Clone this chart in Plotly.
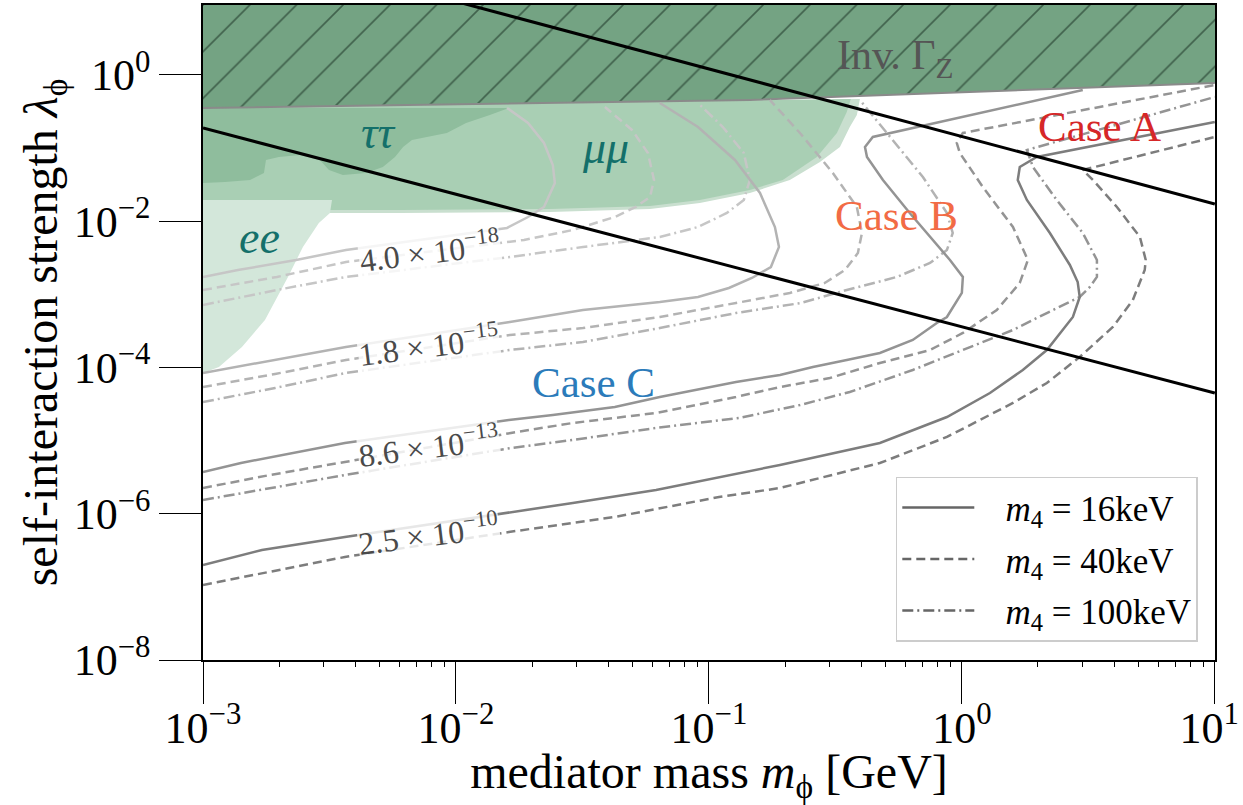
import numpy as np
import plotly.graph_objects as go

FONT = "Liberation Serif, DejaVu Serif, serif"
NBSP = "\u00a0"

# ---------------- excluded regions (log10 m_phi [GeV], log10 lambda_phi) ----------------
# lower edge of the invisible Z-width exclusion
invz_logm = [-3.0, -0.838, 1.0]
invz_loglam = [-0.451, -0.342, -0.109]

# mu mu exclusion (outer soft band and core)
mumu_band_logm = [-3.000, -0.403, -0.415, -0.443, -0.482, -0.561, -0.680, -0.838, -1.036, -1.233, -1.628, -2.221, -3.000]
mumu_band_loglam = [-0.451, -0.328, -0.547, -0.711, -0.985, -1.190, -1.436, -1.614, -1.750, -1.832, -1.874, -1.887, -1.887]
mumu_logm = [-3.000, -0.439, -0.455, -0.494, -0.573, -0.708, -0.838, -1.036, -1.233, -1.628, -2.221, -3.000]
mumu_loglam = [-0.451, -0.328, -0.506, -0.793, -1.121, -1.436, -1.573, -1.709, -1.791, -1.832, -1.846, -1.846]

# tau tau exclusion
tautau_logm = [-3.000, -1.791, -1.866, -1.960, -2.036, -2.174, -2.209, -2.241, -2.289, -2.356, -2.447, -2.502,
               -2.538, -2.617, -2.700, -2.751, -2.759, -2.814, -2.913, -3.000]
tautau_loglam = [-0.451, -0.451, -0.547, -0.656, -0.793, -0.889, -0.985, -1.121, -1.258, -1.340, -1.368, -1.299,
                 -1.162, -1.094, -1.121, -1.162, -1.340, -1.436, -1.463, -1.477]

# e e exclusion
ee_logm = [-3.000, -2.490, -2.498, -2.542, -2.605, -2.664, -2.755, -2.846, -2.937, -3.000]
ee_loglam = [-1.709, -1.709, -1.887, -2.024, -2.352, -2.762, -3.350, -3.720, -3.993, -4.075]

# ---------------- iso-lines of the relic quantity for m4 = 16 / 40 / 100 keV ----------------
level_text = ["4.0 × 10<sup>−18</sup>", "1.8 × 10<sup>−15</sup>", "8.6 × 10<sup>−13</sup>", "2.5 × 10<sup>−10</sup>"]
level_label_logm = [-2.103, -2.110, -2.110, -2.110]
level_label_loglam = [-2.390, -3.680, -5.060, -6.270]
level_colors = ["#c6c6c6", "#b3b3b3", "#949494", "#7d7d7d"]

# level 4.0e-18
l18_solid_logm = [-3.000, -2.862, -2.632, -2.435, -1.798, -1.715, -1.652, -1.609, -1.617, -1.652, -1.715, -1.798]
l18_solid_loglam = [-2.762, -2.667, -2.530, -2.393, -2.092, -1.942, -1.805, -1.477, -1.231, -0.930, -0.656, -0.451]
l18_dash_logm = [-3.000, -2.708, -2.435, -1.731, -1.538, -1.372, -1.289, -1.233, -1.217, -1.241, -1.304, -1.411]
l18_dash_loglam = [-2.940, -2.762, -2.557, -2.256, -2.120, -1.942, -1.805, -1.668, -1.436, -1.067, -0.752, -0.438]
l18_dot_logm = [-3.000, -2.708, -2.435, -1.787, -1.498, -1.194, -1.043, -0.929, -0.862, -0.838, -0.862, -0.945, -1.043]
l18_dot_loglam = [-3.145, -2.940, -2.762, -2.489, -2.352, -2.215, -2.079, -1.887, -1.709, -1.436, -1.067, -0.711, -0.383]

# level 1.8e-15
l15_solid_logm = [-3.000, -2.715, -2.435, -1.787, -1.498, -1.194, -1.043, -0.921, -0.830, -0.755, -0.723, -0.739,
                  -0.798, -0.897, -1.043, -1.194]
l15_solid_loglam = [-4.075, -3.897, -3.720, -3.378, -3.214, -3.104, -3.036, -2.913, -2.776, -2.626, -2.352, -2.079,
                    -1.614, -1.162, -0.711, -0.383]
l15_dash_logm = [-3.000, -2.715, -2.435, -1.787, -1.498, -1.194, -0.893, -0.680, -0.542, -0.462, -0.411, -0.395,
                 -0.415, -0.510, -0.640, -0.759]
l15_dash_loglam = [-4.267, -4.089, -3.897, -3.556, -3.460, -3.309, -3.118, -2.981, -2.844, -2.667, -2.434, -2.161,
                   -1.805, -1.340, -0.793, -0.342]
l15_dot_logm = [-3.000, -2.715, -2.435, -1.787, -1.498, -1.194, -0.893, -0.636, -0.455, -0.257, -0.126, -0.059,
                -0.036, -0.059, -0.154, -0.296, -0.403]
l15_dot_loglam = [-4.472, -4.280, -4.075, -3.761, -3.651, -3.460, -3.255, -3.118, -2.940, -2.762, -2.571, -2.393,
                  -2.161, -1.887, -1.395, -0.793, -0.342]

# level 8.6e-13
l13_solid_logm = [-3.000, -2.850, -2.439, -1.791, -1.617, -1.372, -1.194, -0.893, -0.719, -0.589, -0.455, -0.324,
                  -0.194, -0.099, -0.059, 0.000, 0.004, -0.047, -0.206, -0.312, -0.375, -0.383, -0.352, 0.478]
l13_solid_loglam = [-5.429, -5.306, -5.032, -4.718, -4.650, -4.540, -4.403, -4.198, -4.103, -3.993, -3.897, -3.802,
                    -3.624, -3.391, -3.309, -2.981, -2.762, -2.530, -1.887, -1.436, -1.121, -0.985, -0.848, -0.205]
l13_dash_logm = [-3.000, -2.735, -2.439, -1.783, -1.538, -1.209, -0.893, -0.719, -0.522, -0.324, -0.126, 0.004,
                 0.138, 0.229, 0.261, 0.202, 0.083, -0.008, -0.020, 0.004, 1.000]
l13_dash_loglam = [-5.648, -5.470, -5.292, -4.896, -4.759, -4.622, -4.403, -4.267, -4.144, -3.938, -3.761, -3.528,
                   -3.214, -2.844, -2.530, -2.079, -1.532, -1.067, -0.930, -0.793, -0.137]
l13_dot_logm = [-3.000, -2.775, -2.439, -1.783, -1.538, -1.209, -0.881, -0.640, -0.443, -0.194, 0.071, 0.202,
                0.336, 0.466, 0.506, 0.534, 0.534, 0.478, 0.375, 0.281, 0.257, 1.000]
l13_dot_loglam = [-5.812, -5.675, -5.470, -5.101, -4.991, -4.827, -4.691, -4.513, -4.335, -4.034, -3.665, -3.487,
                  -3.255, -3.036, -2.899, -2.762, -2.530, -2.161, -1.709, -1.258, -1.026, -0.301]

# level 2.5e-10
l10_solid_logm = [-3.000, -2.767, -2.439, -1.791, -1.538, -1.209, -0.881, -0.719, -0.324, -0.059, 0.111, 0.241,
                  0.336, 0.439, 0.466, 0.458, 0.427, 0.348, 0.257, 0.221, 0.229, 0.296, 1.000]
l10_solid_loglam = [-6.701, -6.496, -6.318, -5.990, -5.853, -5.675, -5.443, -5.333, -5.032, -4.677, -4.349, -4.034,
                    -3.761, -3.309, -3.036, -2.831, -2.598, -2.161, -1.709, -1.436, -1.258, -1.121, -0.643]
l10_dash_logm = [-3.000, -2.735, -2.439, -1.791, -1.372, -0.960, -0.719, -0.324, -0.059, 0.202, 0.336, 0.466,
                 0.597, 0.676, 0.723, 0.727, 0.704, 0.613, 0.518, 0.478, 1.000]
l10_dash_loglam = [-6.974, -6.797, -6.591, -6.250, -6.044, -5.771, -5.648, -5.306, -4.950, -4.485, -4.212, -3.856,
                   -3.446, -3.077, -2.667, -2.530, -2.215, -1.805, -1.436, -1.299, -0.848]

# ---------------- perturbativity / consistency boundaries ----------------
bound_low_logm = [-3.0, 1.0]
bound_low_loglam = [-0.725, -4.349]
bound_high_logm = [-2.2, 1.0]
bound_high_loglam = [1.19, -1.764]

legend_names = [NBSP * 3 + "<i>m</i><sub>4</sub> = 16keV",
                NBSP * 3 + "<i>m</i><sub>4</sub> = 40keV",
                NBSP * 3 + "<i>m</i><sub>4</sub> = 100keV"]

DASH_STYLES = ["solid", "9px,5px", "11px,4px,2px,4px"]


def p10(v):
    return np.power(10.0, np.asarray(v, dtype=float))


fig = go.Figure()


def region(logm, loglam, color):
    fig.add_trace(go.Scatter(x=p10(logm), y=p10(loglam), mode="lines", fill="toself",
                             fillcolor=color, line=dict(width=0, color=color),
                             hoverinfo="skip", showlegend=False))


region(mumu_band_logm, mumu_band_loglam, "#c9dfcf")
region(mumu_logm, mumu_loglam, "#a9cfb4")
region(ee_logm, ee_loglam, "#d3e7da")
region(tautau_logm, tautau_loglam, "#8fbd9d")

# hatched invisible-width region, closed along the top of the frame
inv_poly_logm = [-3.2] + invz_logm + [1.2, 1.2, -3.2]
inv_poly_loglam = [invz_loglam[0]] + invz_loglam + [invz_loglam[-1], 1.6, 1.6]
fig.add_trace(go.Scatter(
    x=p10(inv_poly_logm), y=p10(inv_poly_loglam), mode="lines", fill="toself",
    fillcolor="#74a383", line=dict(width=0, color="#74a383"),
    fillpattern=dict(shape="/", size=33, solidity=0.05, fgcolor="#0c2016", bgcolor="#74a383"),
    hoverinfo="skip", showlegend=False))
fig.add_trace(go.Scatter(x=p10(invz_logm), y=p10(invz_loglam), mode="lines",
                         line=dict(color="#8a8a8a", width=2), hoverinfo="skip", showlegend=False))

# iso-lines
curves = [
    (l18_solid_logm, l18_solid_loglam, 0, 0), (l18_dash_logm, l18_dash_loglam, 0, 1), (l18_dot_logm, l18_dot_loglam, 0, 2),
    (l15_solid_logm, l15_solid_loglam, 1, 0), (l15_dash_logm, l15_dash_loglam, 1, 1), (l15_dot_logm, l15_dot_loglam, 1, 2),
    (l13_solid_logm, l13_solid_loglam, 2, 0), (l13_dash_logm, l13_dash_loglam, 2, 1), (l13_dot_logm, l13_dot_loglam, 2, 2),
    (l10_solid_logm, l10_solid_loglam, 3, 0), (l10_dash_logm, l10_dash_loglam, 3, 1),
]
for lm, ll, lev, sty in curves:
    fig.add_trace(go.Scatter(x=p10(lm), y=p10(ll), mode="lines",
                             line=dict(color=level_colors[lev], width=2.5, dash=DASH_STYLES[sty]),
                             hoverinfo="skip", showlegend=False))

# boundaries
for lm, ll in [(bound_low_logm, bound_low_loglam), (bound_high_logm, bound_high_loglam)]:
    fig.add_trace(go.Scatter(x=p10(lm), y=p10(ll), mode="lines", line=dict(color="black", width=3),
                             hoverinfo="skip", showlegend=False))

# legend entries
for i, name in enumerate(legend_names):
    fig.add_trace(go.Scatter(x=[None], y=[None], mode="lines", name=name, legendgroup=f"g{i}",
                             line=dict(color="#666666", width=2.5, dash=DASH_STYLES[i])))

# iso-line labels
for txt, lm, ll in zip(level_text, level_label_logm, level_label_loglam):
    fig.add_annotation(x=lm, y=ll, text=txt, showarrow=False, textangle=-7,
                       font=dict(family=FONT, size=32, color="#4a4a4a"),
                       bgcolor="rgba(255,255,255,0.82)", borderpad=0)

# region and case labels
region_labels = [
    ("Inv. Γ<sub>Z</sub>", -0.261, 0.232, "#555555", 42),
    ("<i>ττ</i>", -2.308, -0.793, "#14706a", 46),
    ("<i>μμ</i>", -1.407, -0.998, "#14706a", 46),
    ("<i>ee</i>", -2.775, -2.229, "#14706a", 46),
    ("Case A", 0.545, -0.711, "#d62728", 43),
    ("Case B", -0.257, -1.915, "#f26b45", 43),
    ("Case C", -1.455, -4.212, "#2b7bba", 43),
]
for txt, lm, ll, col, sz in region_labels:
    fig.add_annotation(x=lm, y=ll, text=txt, showarrow=False, font=dict(family=FONT, size=sz, color=col))

x_tickvals = [1e-3, 1e-2, 1e-1, 1e0, 1e1]
x_ticktext = ["10<sup>−3</sup>", "10<sup>−2</sup>", "10<sup>−1</sup>", "10<sup>0</sup>", "10<sup>1</sup>" + NBSP]
x_minor = [k * 10.0 ** d for d in range(-3, 1) for k in range(2, 10)]
y_tickvals = [1e-8, 1e-6, 1e-4, 1e-2, 1e0]
y_ticktext = ["10<sup>−8</sup>", "10<sup>−6</sup>", "10<sup>−4</sup>", "10<sup>−2</sup>", "10<sup>0</sup>"]

axis_common = dict(type="log", ticks="outside", ticklen=42, tickwidth=1, tickcolor="black",
                   showline=True, linecolor="black", linewidth=1.5, mirror=True,
                   showgrid=False, zeroline=False, automargin=False, ticklabeloverflow="allow",
                   tickfont=dict(family=FONT, size=44, color="black"))

fig.update_layout(
    width=1243, height=805,
    margin=dict(l=203, r=28, t=5, b=145),
    paper_bgcolor="white", plot_bgcolor="white",
    font=dict(family=FONT, color="black"),
    xaxis=dict(range=[-3, 1.0008], tickmode="array", tickvals=x_tickvals, ticktext=x_ticktext,
               ticklabelstandoff=-14,
               minor=dict(ticks="outside", ticklen=5, tickwidth=1, tickcolor="black",
                          tickmode="array", tickvals=x_minor, showgrid=False),
               title=dict(text="mediator mass <i>m</i><sub>ϕ</sub> [GeV]", standoff=0,
                          font=dict(family=FONT, size=48, color="black")),
               **axis_common),
    yaxis=dict(range=[-8, 0.957], tickmode="array", tickvals=y_tickvals, ticktext=y_ticktext,
               title=dict(text="self-interaction strength <i>λ</i><sub>ϕ</sub>", standoff=0,
                          font=dict(family=FONT, size=48, color="black")),
               **axis_common),
    legend=dict(x=0.983, y=0.028, xanchor="right", yanchor="bottom",
                bgcolor="rgba(255,255,255,0.85)", bordercolor="#cccccc", borderwidth=1.5,
                font=dict(family=FONT, size=35, color="black"),
                itemwidth=72, tracegroupgap=3),
    showlegend=True,
)

fig.write_html("out.html")
